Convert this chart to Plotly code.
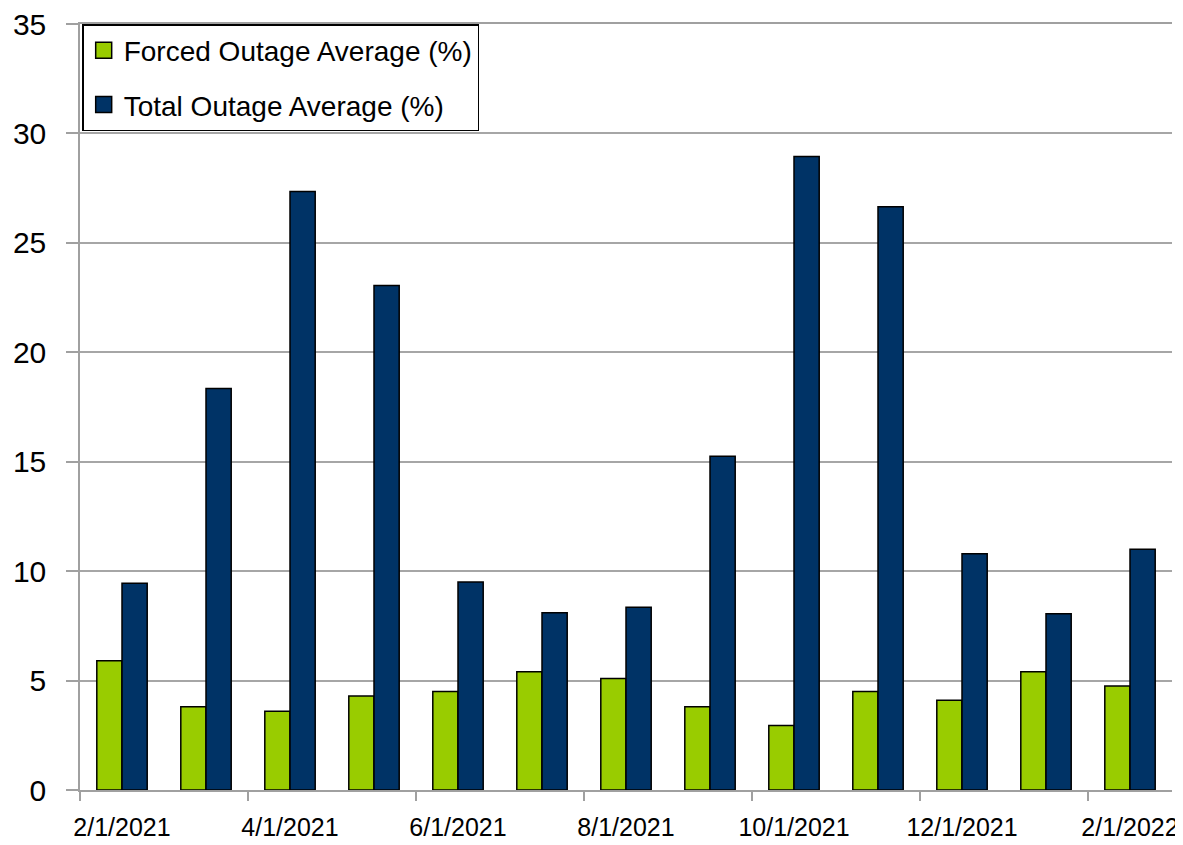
import plotly.graph_objects as go

months = ["2/1/2021", "3/1/2021", "4/1/2021", "5/1/2021", "6/1/2021", "7/1/2021",
          "8/1/2021", "9/1/2021", "10/1/2021", "11/1/2021", "12/1/2021", "1/1/2022", "2/1/2022"]
forced_outage = [5.9, 3.8, 3.6, 4.3, 4.5, 5.4, 5.1, 3.8, 2.95, 4.5, 4.1, 5.4, 4.75]
total_outage = [9.45, 18.35, 27.35, 23.05, 9.5, 8.1, 8.35, 15.25, 28.95, 26.65, 10.8, 8.05, 11.0]
y_ticks = [0, 5, 10, 15, 20, 25, 30, 35]

series = [
    ("Forced Outage Average (%)", forced_outage, "#99CC00"),
    ("Total Outage Average (%)", total_outage, "#003366"),
]

idx = list(range(len(months)))
label_idx = idx[::2]
boundary_ticks = [i - 0.5 for i in label_idx]

FONT = "Liberation Sans, Arial, sans-serif"

fig = go.Figure()
for name, vals, color in series:
    fig.add_trace(go.Bar(
        x=idx, y=vals, name=name, showlegend=False,
        marker=dict(color=color, line=dict(color="#000000", width=1.5)),
    ))
# legend entries with larger square swatches
for k, (name, vals, color) in enumerate(series):
    fig.add_trace(go.Scatter(
        x=[None], y=[None], mode="markers", name=name, legendgroup=f"g{k}",
        marker=dict(symbol="square", size=18, color=color,
                    line=dict(color="#000000", width=1.5)),
    ))

fig.update_layout(
    width=1175, height=837,
    margin=dict(l=72, r=11, t=16, b=55, autoexpand=False),
    paper_bgcolor="white", plot_bgcolor="white",
    barmode="group", bargap=0.4, bargroupgap=0,
    font=dict(family=FONT, size=26, color="#000000"),
    showlegend=True,
    legend=dict(
        x=0.002, y=1, xanchor="left", yanchor="top",
        bgcolor="white", bordercolor="#000000", borderwidth=1.5,
        font=dict(family=FONT, size=28, color="#000000"),
        tracegroupgap=15, traceorder="grouped", itemwidth=30,
    ),
)

fig.update_xaxes(
    range=[-0.5, len(months) - 0.5], automargin=False,
    tickmode="array", tickvals=label_idx, ticktext=[months[i] for i in label_idx],
    ticks="", showgrid=False,
    showline=True, mirror=True, linecolor="#A0A0A0", linewidth=1.5,
    tickfont=dict(family=FONT, size=25, color="#000000"),
    ticklabelstandoff=14, ticklabeloverflow="allow",
    minor=dict(tickmode="array", tickvals=boundary_ticks, ticks="outside",
               ticklen=9, tickcolor="#A0A0A0", tickwidth=1.5, showgrid=False),
    zeroline=False,
)
fig.update_yaxes(
    range=[0, 35], automargin=False,
    tickmode="array", tickvals=y_ticks,
    ticks="outside", ticklen=12, tickcolor="#A0A0A0", tickwidth=1.5,
    showgrid=True, gridcolor="#A6A6A6", gridwidth=1.5,
    showline=True, linecolor="#A0A0A0", linewidth=1.5,
    zeroline=False,
    tickfont=dict(family=FONT, size=30, color="#000000"),
    ticklabelstandoff=14, ticklabeloverflow="allow",
)

fig.write_html("out.html")
